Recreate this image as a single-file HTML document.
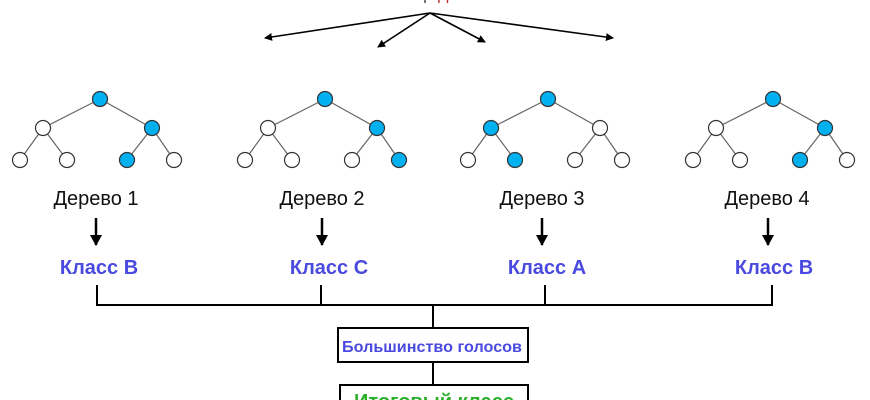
<!DOCTYPE html>
<html><head><meta charset="utf-8"><style>
html,body{margin:0;padding:0;background:#fff;width:870px;height:400px;overflow:hidden}
svg{display:block}
</style></head><body>
<svg width="870" height="400" viewBox="0 0 870 400" xmlns="http://www.w3.org/2000/svg" font-family="Liberation Sans, DejaVu Sans, sans-serif">
<defs>
<marker id="a" markerWidth="8" markerHeight="8" refX="7" refY="4" orient="auto" markerUnits="userSpaceOnUse"><path d="M0,0 L8,4 L0,8 z" fill="#000"/></marker>
<marker id="b" markerWidth="12" markerHeight="12" refX="10" refY="6" orient="auto" markerUnits="userSpaceOnUse"><path d="M0,0 L11,6 L0,12 z" fill="#000"/></marker>
</defs>
<text x="440" y="-1" font-size="18" text-anchor="middle" fill="#555">Набор <tspan fill="#c03030">данных</tspan></text>
<g stroke="#000" stroke-width="1.6" fill="none">
<line x1="430" y1="13" x2="265" y2="38" marker-end="url(#a)"/>
<line x1="430" y1="13" x2="378" y2="47" marker-end="url(#a)"/>
<line x1="430" y1="13" x2="485" y2="42" marker-end="url(#a)"/>
<line x1="430" y1="13" x2="613" y2="38" marker-end="url(#a)"/>
</g>
<g id="t1">
<g stroke="#666" stroke-width="1.2">
<line x1="100" y1="99" x2="43" y2="128"/><line x1="100" y1="99" x2="152" y2="128"/>
<line x1="43" y1="128" x2="20" y2="160"/><line x1="43" y1="128" x2="67" y2="160"/>
<line x1="152" y1="128" x2="127" y2="160"/><line x1="152" y1="128" x2="174" y2="160"/>
</g>
</g>
<use href="#t1" x="225"/><use href="#t1" x="448"/><use href="#t1" x="673"/>
<g stroke="#333" stroke-width="1.2">
<circle cx="100" cy="99" r="7.5" fill="#00b0f0"/><circle cx="43" cy="128" r="7.5" fill="#fff"/><circle cx="152" cy="128" r="7.5" fill="#00b0f0"/>
<circle cx="20" cy="160" r="7.5" fill="#fff"/><circle cx="67" cy="160" r="7.5" fill="#fff"/><circle cx="127" cy="160" r="7.5" fill="#00b0f0"/><circle cx="174" cy="160" r="7.5" fill="#fff"/>
<circle cx="325" cy="99" r="7.5" fill="#00b0f0"/><circle cx="268" cy="128" r="7.5" fill="#fff"/><circle cx="377" cy="128" r="7.5" fill="#00b0f0"/>
<circle cx="245" cy="160" r="7.5" fill="#fff"/><circle cx="292" cy="160" r="7.5" fill="#fff"/><circle cx="352" cy="160" r="7.5" fill="#fff"/><circle cx="399" cy="160" r="7.5" fill="#00b0f0"/>
<circle cx="548" cy="99" r="7.5" fill="#00b0f0"/><circle cx="491" cy="128" r="7.5" fill="#00b0f0"/><circle cx="600" cy="128" r="7.5" fill="#fff"/>
<circle cx="468" cy="160" r="7.5" fill="#fff"/><circle cx="515" cy="160" r="7.5" fill="#00b0f0"/><circle cx="575" cy="160" r="7.5" fill="#fff"/><circle cx="622" cy="160" r="7.5" fill="#fff"/>
<circle cx="773" cy="99" r="7.5" fill="#00b0f0"/><circle cx="716" cy="128" r="7.5" fill="#fff"/><circle cx="825" cy="128" r="7.5" fill="#00b0f0"/>
<circle cx="693" cy="160" r="7.5" fill="#fff"/><circle cx="740" cy="160" r="7.5" fill="#fff"/><circle cx="800" cy="160" r="7.5" fill="#00b0f0"/><circle cx="847" cy="160" r="7.5" fill="#fff"/>
</g>
<g font-size="20" fill="#111" text-anchor="middle">
<text x="96" y="205">Дерево 1</text><text x="322" y="205">Дерево 2</text><text x="542" y="205">Дерево 3</text><text x="767" y="205">Дерево 4</text>
</g>
<g stroke="#000" stroke-width="2.5">
<line x1="96" y1="218" x2="96" y2="245" marker-end="url(#b)"/>
<line x1="322" y1="218" x2="322" y2="245" marker-end="url(#b)"/>
<line x1="542" y1="218" x2="542" y2="245" marker-end="url(#b)"/>
<line x1="768" y1="218" x2="768" y2="245" marker-end="url(#b)"/>
</g>
<g font-size="20" font-weight="bold" fill="#4a4ae0" text-anchor="middle">
<text x="99" y="274">Класс В</text><text x="329" y="274">Класс С</text><text x="547" y="274">Класс А</text><text x="774" y="274">Класс В</text>
</g>
<g stroke="#000" stroke-width="2" fill="none">
<path d="M97,285 V305 H772 V285 M321,285 V305 M545,285 V305 M433,305 V328 M433,362 V385"/>
<rect x="338" y="328" width="190" height="34" fill="#fff"/>
<rect x="340" y="385" width="188" height="30" fill="#fff"/>
</g>
<text x="432" y="352" font-size="16" font-weight="bold" fill="#4a4ae0" text-anchor="middle" textLength="180" lengthAdjust="spacingAndGlyphs">Большинство голосов</text>
<text x="434" y="408" font-size="20" font-weight="bold" fill="#2ab02a" text-anchor="middle">Итоговый класс</text>
</svg>
</body></html>
